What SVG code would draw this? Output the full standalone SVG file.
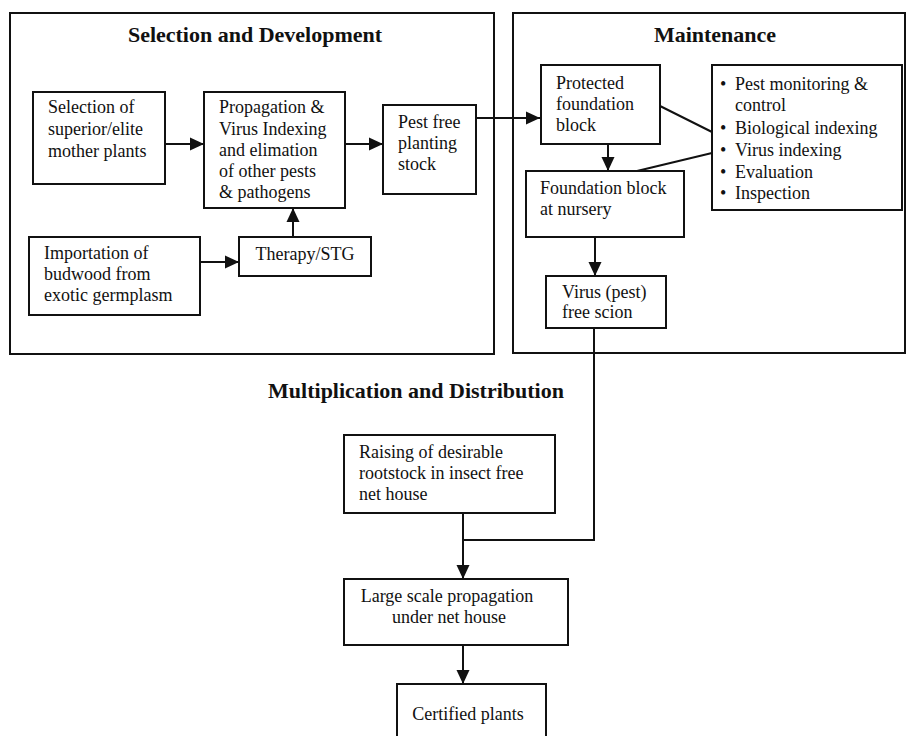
<svg xmlns="http://www.w3.org/2000/svg" width="907" height="736" viewBox="0 0 907 736">
<defs>
<marker id="ah" markerUnits="userSpaceOnUse" markerWidth="14" markerHeight="14" refX="14" refY="7" orient="auto">
<path d="M0,0.5 L14,7 L0,13.5 Z" fill="#111"/>
</marker>
<style>
.frame{fill:none;stroke:#111;stroke-width:2}
.box{fill:#fff;stroke:#111;stroke-width:2}
.t{font-family:"Liberation Serif","Times New Roman",serif;font-size:18px;fill:#111}
.h{font-family:"Liberation Serif","Times New Roman",serif;font-size:22px;font-weight:bold;fill:#111;text-anchor:middle}
.c{fill:none;stroke:#111;stroke-width:2}
.a{marker-end:url(#ah)}
</style>
</defs>
<rect width="907" height="736" fill="#fff"/>
<g id="frame-selection">
<rect class="frame" x="10" y="13" width="484" height="341"/>
<text class="h" x="255" y="42">Selection and Development</text>
</g>
<g id="frame-maintenance">
<rect class="frame" x="513" y="13" width="392" height="340"/>
<text class="h" x="715" y="42">Maintenance</text>
</g>
<g id="title-multiplication">
<text class="h" x="416" y="398">Multiplication and Distribution</text>
</g>
<g id="connectors">
<path class="c a" d="M165,144 H204"/>
<path class="c a" d="M345,144 H383"/>
<path class="c a" d="M476,118 H540"/>
<path class="c a" d="M200,262 H239"/>
<path class="c a" d="M293,237 V208"/>
<path class="c a" d="M608,144 V171"/>
<path class="c" d="M660,106 L712,132"/>
<path class="c" d="M637,171 L712,153"/>
<path class="c a" d="M595,237 V276"/>
<path class="c" d="M594,328 V540 H463"/>
<path class="c a" d="M463,513 V579"/>
<path class="c a" d="M463,645 V684"/>
</g>
<g id="n-selection">
<rect class="box" x="33" y="92" width="132" height="92"/>
<text class="t" x="48" y="113">Selection of</text>
<text class="t" x="48" y="135">superior/elite</text>
<text class="t" x="48" y="157">mother plants</text>
</g>
<g id="n-propagation">
<rect class="box" x="204" y="92" width="141" height="116"/>
<text class="t" x="219" y="113">Propagation &amp;</text>
<text class="t" x="219" y="135">Virus Indexing</text>
<text class="t" x="219" y="156">and elimation</text>
<text class="t" x="219" y="177">of other pests</text>
<text class="t" x="219" y="198">&amp; pathogens</text>
</g>
<g id="n-pestfree">
<rect class="box" x="383" y="105" width="93" height="89"/>
<text class="t" x="398" y="128">Pest free</text>
<text class="t" x="398" y="149">planting</text>
<text class="t" x="398" y="170">stock</text>
</g>
<g id="n-importation">
<rect class="box" x="29" y="237" width="171" height="78"/>
<text class="t" x="44" y="259">Importation of</text>
<text class="t" x="44" y="280">budwood from</text>
<text class="t" x="44" y="301">exotic germplasm</text>
</g>
<g id="n-therapy">
<rect class="box" x="239" y="237" width="132" height="39"/>
<text class="t" x="305" y="260" text-anchor="middle">Therapy/STG</text>
</g>
<g id="n-protected">
<rect class="box" x="541" y="65" width="119" height="79"/>
<text class="t" x="556" y="89">Protected</text>
<text class="t" x="556" y="110">foundation</text>
<text class="t" x="556" y="131">block</text>
</g>
<g id="n-foundation">
<rect class="box" x="526" y="171" width="158" height="66"/>
<text class="t" x="540" y="194">Foundation block</text>
<text class="t" x="540" y="215">at nursery</text>
</g>
<g id="n-activities">
<rect class="box" x="712" y="65" width="190" height="145"/>
<text class="t" x="720" y="90">•</text><text class="t" x="735" y="90">Pest monitoring &amp;</text>
<text class="t" x="735" y="111">control</text>
<text class="t" x="720" y="134">•</text><text class="t" x="735" y="134">Biological indexing</text>
<text class="t" x="720" y="156">•</text><text class="t" x="735" y="156">Virus indexing</text>
<text class="t" x="720" y="178">•</text><text class="t" x="735" y="178">Evaluation</text>
<text class="t" x="720" y="199">•</text><text class="t" x="735" y="199">Inspection</text>
</g>
<g id="n-scion">
<rect class="box" x="546" y="276" width="120" height="52"/>
<text class="t" x="562" y="298">Virus (pest)</text>
<text class="t" x="562" y="318">free scion</text>
</g>
<g id="n-raising">
<rect class="box" x="344" y="435" width="211" height="78"/>
<text class="t" x="359" y="458">Raising of desirable</text>
<text class="t" x="359" y="479">rootstock in insect free</text>
<text class="t" x="359" y="500">net house</text>
</g>
<g id="n-large">
<rect class="box" x="344" y="579" width="224" height="66"/>
<text class="t" x="447" y="602" text-anchor="middle">Large scale propagation</text>
<text class="t" x="449" y="623" text-anchor="middle">under net house</text>
</g>
<g id="n-certified">
<rect class="box" x="397" y="684" width="149" height="70"/>
<text class="t" x="468" y="720" text-anchor="middle">Certified plants</text>
</g>
</svg>
